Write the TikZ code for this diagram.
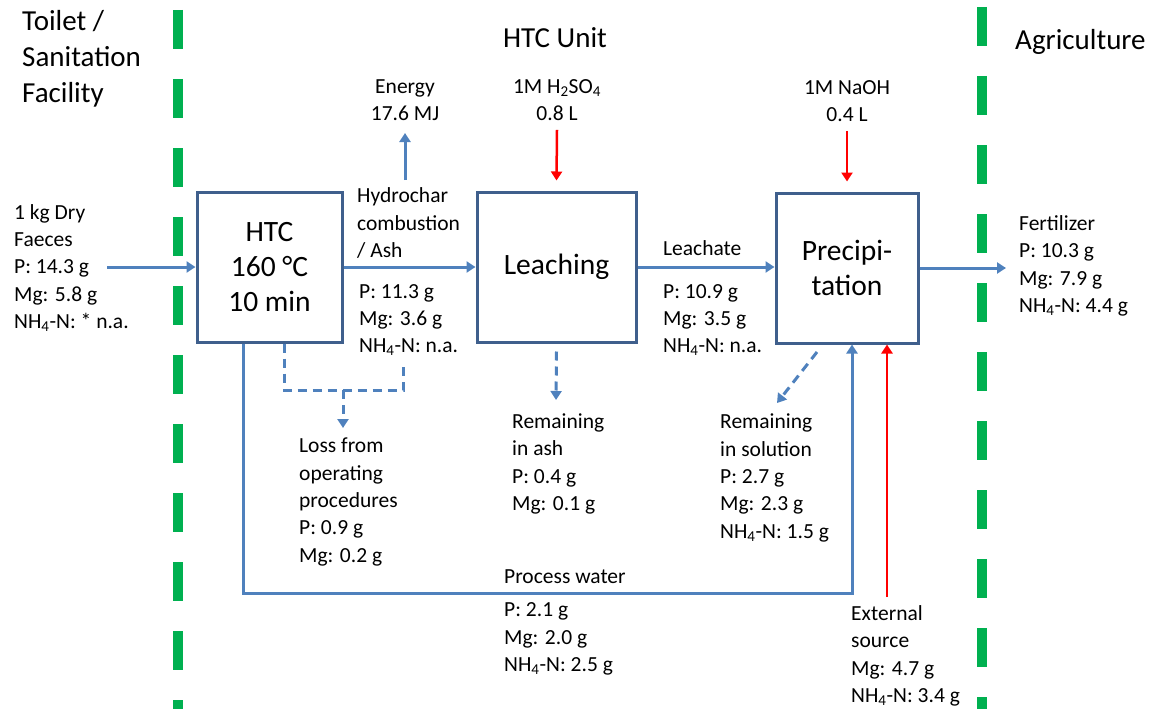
\documentclass[tikz,border=0pt]{standalone}
\usepackage{fontspec}
\setmainfont{Carlito}
\usetikzlibrary{arrows.meta,positioning}
\definecolor{boxblue}{HTML}{3F5F8C}
\definecolor{flowblue}{HTML}{4F81BD}
\definecolor{limitgreen}{HTML}{00B050}
\tikzset{
  procbox/.style={draw=boxblue, line width=3pt, minimum width=145pt, minimum height=150pt,
    align=center, font=\fontsize{29.5}{35}\selectfont},
  txt/.style={anchor=west, align=left, inner sep=0pt, font=\fontsize{21.5}{27.3}\selectfont},
  head/.style={txt, font=\fontsize{29}{36}\selectfont},
  flow/.style={draw=flowblue, line width=3pt, -{Triangle[width=11pt,length=9pt]}},
  lossflow/.style={flow, dash pattern=on 9pt off 6pt},
  dose/.style={draw=red, line width=2.5pt, -{Triangle[width=11pt,length=9pt]}},
  border/.style={draw=limitgreen, line width=10pt, dash pattern=on 39pt off 30pt}
}
\newcommand{\nhn}{NH\textsubscript{4}-N}
\begin{document}
\begin{tikzpicture}[x=1pt, y=-1pt]
  \useasboundingbox (0,0) rectangle (1149,709);
  \foreach \x/\y in {178/10, 982/7}
    {\draw[border] (\x,\y) -- (\x,720);}

  \node[procbox] (htc) at (269.5,267) {HTC\\160 °C\\10 min};
  \node[procbox, minimum width=159pt] (leach) at (556.5,267) {Leaching};
  \node[procbox, minimum width=142pt] (precip) at (847,268) {Precipi-\\tation};

  \node[head] (toilet) at (22,59) {Toilet /\\Sanitation\\Facility};
  \node[head, anchor=center] (unit) at (555,38) {HTC Unit};
  \node[head] (agri) at (1015,42) {Agriculture};

  \node[txt] (feed) at (14,268) {1 kg Dry\\Faeces\\P: 14.3 g\\Mg: 5.8 g\\\nhn: * n.a.};
  \node[txt, anchor=center, align=center] (energy) at (405,100) {Energy\\17.6 MJ};
  \node[txt, anchor=center, align=center] (acid) at (557,100) {1M H\textsubscript{2}SO\textsubscript{4}\\0.8 L};
  \node[txt, anchor=center, align=center] (base) at (847,101) {1M NaOH\\0.4 L};
  \node[txt] (char) at (357,223) {Hydrochar\\combustion\\/ Ash};
  \node[txt] (charval) at (359,320) {P: 11.3 g\\Mg: 3.6 g\\\nhn: n.a.};
  \node[txt] (leachate) at (663,248) {Leachate};
  \node[txt] (leachval) at (663,320) {P: 10.9 g\\Mg: 3.5 g\\\nhn: n.a.};
  \node[txt] (fert) at (1019,266) {Fertilizer\\P: 10.3 g\\Mg: 7.9 g\\\nhn: 4.4 g};
  \node[txt] (loss) at (299,502) {Loss from\\operating\\procedures\\P: 0.9 g\\Mg: 0.2 g};
  \node[txt] (ashrest) at (512,464) {Remaining\\in ash\\P: 0.4 g\\Mg: 0.1 g};
  \node[txt] (solrest) at (720,478) {Remaining\\in solution\\P: 2.7 g\\Mg: 2.3 g\\\nhn: 1.5 g};
  \node[txt] (water) at (504,577) {Process water};
  \node[txt] (waterval) at (504,639) {P: 2.1 g\\Mg: 2.0 g\\\nhn: 2.5 g};
  \node[txt] (ext) at (851,656) {External\\source\\Mg: 4.7 g\\\nhn: 3.4 g};

  \coordinate (in) at (107,267);
  \coordinate (out) at (1006,268);
  \coordinate (estart) at (405,180);
  \coordinate (eend) at (405,133);
  \coordinate (pwl) at (243,593);
  \coordinate (pwr) at (852,593);
  \coordinate (lossl) at (284,390);
  \coordinate (lossr) at (403,390);
  \coordinate (lossm) at (343,390);
  \coordinate (lossend) at (343,428);
  \coordinate (ashend) at (556,400);
  \coordinate (solstart) at (817,352);
  \coordinate (solend) at (777,403);
  \coordinate (extstart) at (887,597);

  \draw[flow] (in) -- (htc.west);
  \draw[flow] (htc.east) -- (leach.west);
  \draw[flow] (leach.east) -- (precip.west |- leach.east);
  \draw[flow] (precip.east) -- (out);
  \draw[flow] (estart) -- (eend);
  \draw[dose] ([yshift=-9pt]acid.south) -- ([yshift=10pt]leach.north);
  \draw[dose] ([yshift=-9pt]base.south) -- ([yshift=10pt]precip.north);
  \draw[flow] (htc.south -| pwl) -- (pwl) -- (pwr) -- (precip.south -| pwr);
  \draw[dose] (extstart) -- (precip.south -| extstart);
  \draw[lossflow, -] (htc.south -| lossl) -- (lossl) -- (lossr) -- ++(0,-25);
  \draw[lossflow] (lossm) -- (lossend);
  \draw[lossflow] ([yshift=-8pt]leach.south) -- (ashend);
  \draw[lossflow] (solstart) -- (solend);
\end{tikzpicture}
\end{document}
